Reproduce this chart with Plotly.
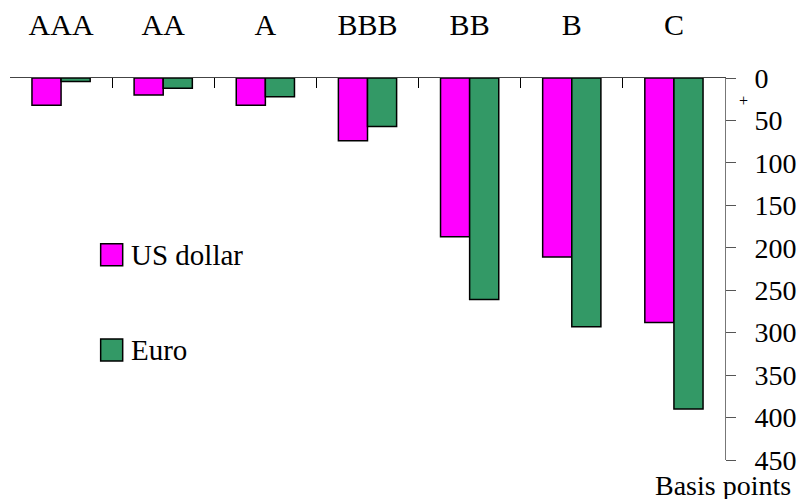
import plotly.graph_objects as go

# Spread over government bonds by rating, in basis points
ratings = ["AAA", "AA", "A", "BBB", "BB", "B", "C"]
us_dollar = [32, 20, 32, 74, 187, 211, 288]
euro = [4, 12, 22, 57, 261, 293, 390]
y_ticks = [0, 50, 100, 150, 200, 250, 300, 350, 400, 450]

MAGENTA = "#FF00FF"
GREEN = "#339966"
FONT = "Liberation Serif"

fig = go.Figure()
fig.add_trace(go.Bar(x=ratings, y=us_dollar, name="US dollar",
                     marker=dict(color=MAGENTA, line=dict(color="black", width=1.5))))
fig.add_trace(go.Bar(x=ratings, y=euro, name="Euro",
                     marker=dict(color=GREEN, line=dict(color="black", width=1.5))))

fig.update_layout(
    template="none",
    width=798, height=499,
    margin=dict(l=10, r=73, t=78, b=39),
    paper_bgcolor="white", plot_bgcolor="white",
    barmode="group", bargap=0.43, bargroupgap=0,
    showlegend=False,
)

fig.update_xaxes(
    type="category", side="top", automargin=False,
    showline=True, linecolor="#444444", linewidth=1,
    ticks="inside", ticklen=10, tickcolor="black", tickson="boundaries",
    ticklabelstandoff=30,
    tickfont=dict(family=FONT, size=30, color="black"),
    showgrid=False, zeroline=False,
)
fig.update_yaxes(
    range=[450, 0], side="right", automargin=False,
    showline=True, linecolor="#777777", linewidth=1,
    ticks="outside", ticklen=10, tickcolor="#555555",
    tickvals=y_ticks, ticktext=[str(v) for v in y_ticks],
    ticklabelstandoff=13,
    tickfont=dict(family=FONT, size=28, color="black"),
    showgrid=False, zeroline=False,
)

# Legend drawn as swatches with text labels
legend_items = [("US dollar", MAGENTA, 0.537), ("Euro", GREEN, 0.288)]
for label, color, yc in legend_items:
    fig.add_shape(type="rect", xref="paper", yref="paper",
                  x0=0.1268, x1=0.1576, y0=yc - 0.0288, y1=yc + 0.0288,
                  fillcolor=color, line=dict(color="black", width=1.5))
    fig.add_annotation(text=label, xref="paper", yref="paper",
                       x=0.1664, y=yc, xanchor="left", yanchor="middle",
                       showarrow=False, font=dict(family=FONT, size=29, color="black"))

fig.add_annotation(text="Basis points", xref="paper", yref="paper",
                   x=0.997, y=-0.022, xanchor="center", yanchor="top",
                   showarrow=False, font=dict(family=FONT, size=28, color="black"))
fig.add_annotation(text="+", xref="paper", yref="paper",
                   x=1.017, y=0.94, xanchor="left", yanchor="middle",
                   showarrow=False, font=dict(family=FONT, size=16, color="black"))

fig.write_html("out.html")
